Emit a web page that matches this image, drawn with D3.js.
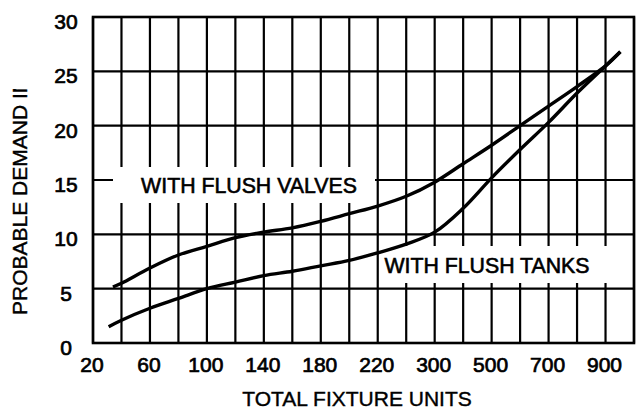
<!DOCTYPE html>
<html><head><meta charset="utf-8">
<script src="https://cdn.jsdelivr.net/npm/d3@7/dist/d3.min.js"></script>
<style>
html,body{margin:0;padding:0;background:#fff;}
svg{display:block;}
text{font-family:"Liberation Sans",Arial,sans-serif;fill:#000;}
</style></head>
<body>
<svg id="chart" width="637" height="412"></svg>
<script>
// ---- data ----
const gridX = [20,40,60,80,100,120,140,160,180,200,220,260,300,400,500,600,700,800,900,1000];
const xTickLabels = [20,60,100,140,180,220,300,500,700,900];
const yTicks = [0,5,10,15,20,25,30];

const valvesX = [34,40,60,80,100,120,140,160,180,200,220,260,300,400,500,600,700,800,900,952];
const valvesY = [5.15,5.5,6.9,8.1,8.9,9.7,10.2,10.6,11.2,11.9,12.6,13.5,14.8,16.5,18.2,20.0,21.8,23.6,25.5,26.8];

const tanksX = [31,40,60,80,100,120,140,160,180,200,220,260,300,400,500,600,700,800,900,952];
const tanksY = [1.5,2.1,3.2,4.1,5.0,5.6,6.2,6.6,7.1,7.6,8.3,9.1,10.2,12.4,15.2,17.8,20.3,23.0,25.5,26.8];

const xTitle = "TOTAL FIXTURE UNITS";
const yTitle = "PROBABLE DEMAND IN GPM";
const valvesLabel = "WITH FLUSH VALVES";
const tanksLabel = "WITH FLUSH TANKS";

// ---- layout ----
const svg = d3.select("#chart");
const L = 93, R = 634, T = 17, B = 343;
const step = (R - L) / (gridX.length - 1);
const x = d3.scaleLinear().domain(gridX).range(gridX.map((d,i)=>L + i*step));
const y = d3.scaleLinear().domain([0,30]).range([B,T]);

const g = svg.append("g");

// grid
g.selectAll("line.v").data(gridX).join("line")
  .attr("x1",d=>x(d)).attr("x2",d=>x(d)).attr("y1",T).attr("y2",B)
  .attr("stroke","#000").attr("stroke-width",2.2);
g.selectAll("line.h").data(yTicks).join("line")
  .attr("x1",L).attr("x2",R).attr("y1",d=>y(d)).attr("y2",d=>y(d))
  .attr("stroke","#000").attr("stroke-width",2.2);

// label background boxes (erase grid behind labels)
g.append("rect").attr("x",113).attr("y",167).attr("width",262).attr("height",36).attr("fill","#fff");
g.append("rect").attr("x",385).attr("y",246).attr("width",230).attr("height",37).attr("fill","#fff");

// frame
g.append("rect").attr("x",L).attr("y",T).attr("width",R-L).attr("height",B-T)
  .attr("fill","none").attr("stroke","#000").attr("stroke-width",2.6);

// curves
const line = d3.line().x(d=>x(d[0])).y(d=>y(d[1])).curve(d3.curveCatmullRom.alpha(0.5));
g.append("path").datum(valvesX.map((v,i)=>[v,valvesY[i]]))
  .attr("d",line).attr("fill","none").attr("stroke","#000").attr("stroke-width",3.4);
g.append("path").datum(tanksX.map((v,i)=>[v,tanksY[i]]))
  .attr("d",line).attr("fill","none").attr("stroke","#000").attr("stroke-width",3.4);

// tick labels
const fs = 21;
g.selectAll("text.yt").data(yTicks).join("text")
  .attr("x",66).attr("y",d=>y(d)+12).attr("text-anchor","middle")
  .attr("font-size",fs).attr("stroke","#000").attr("stroke-width",0.7)
  .text(d=>d);
g.selectAll("text.xt").data(xTickLabels).join("text")
  .attr("x",d=>x(d)-1).attr("y",372).attr("text-anchor","middle")
  .attr("font-size",fs).attr("stroke","#000").attr("stroke-width",0.7)
  .text(d=>d);

// in-plot labels
g.append("text").attr("x",249).attr("y",193).attr("text-anchor","middle")
  .attr("font-size",21.3).attr("stroke","#000").attr("stroke-width",0.6).text(valvesLabel);
g.append("text").attr("x",487).attr("y",273).attr("text-anchor","middle")
  .attr("font-size",21.3).attr("stroke","#000").attr("stroke-width",0.6).text(tanksLabel);

// axis titles
g.append("text").attr("x",357).attr("y",406).attr("text-anchor","middle")
  .attr("font-size",21).attr("stroke","#000").attr("stroke-width",0.4).text(xTitle);

svg.append("clipPath").attr("id","yclip").append("rect")
  .attr("x",0).attr("y",89).attr("width",60).attr("height",300);
svg.append("g").attr("clip-path","url(#yclip)")
  .append("text").attr("transform","translate(27,315) rotate(-90)")
  .attr("font-size",21).attr("stroke","#000").attr("stroke-width",0.4).text(yTitle);
</script>
</body></html>
